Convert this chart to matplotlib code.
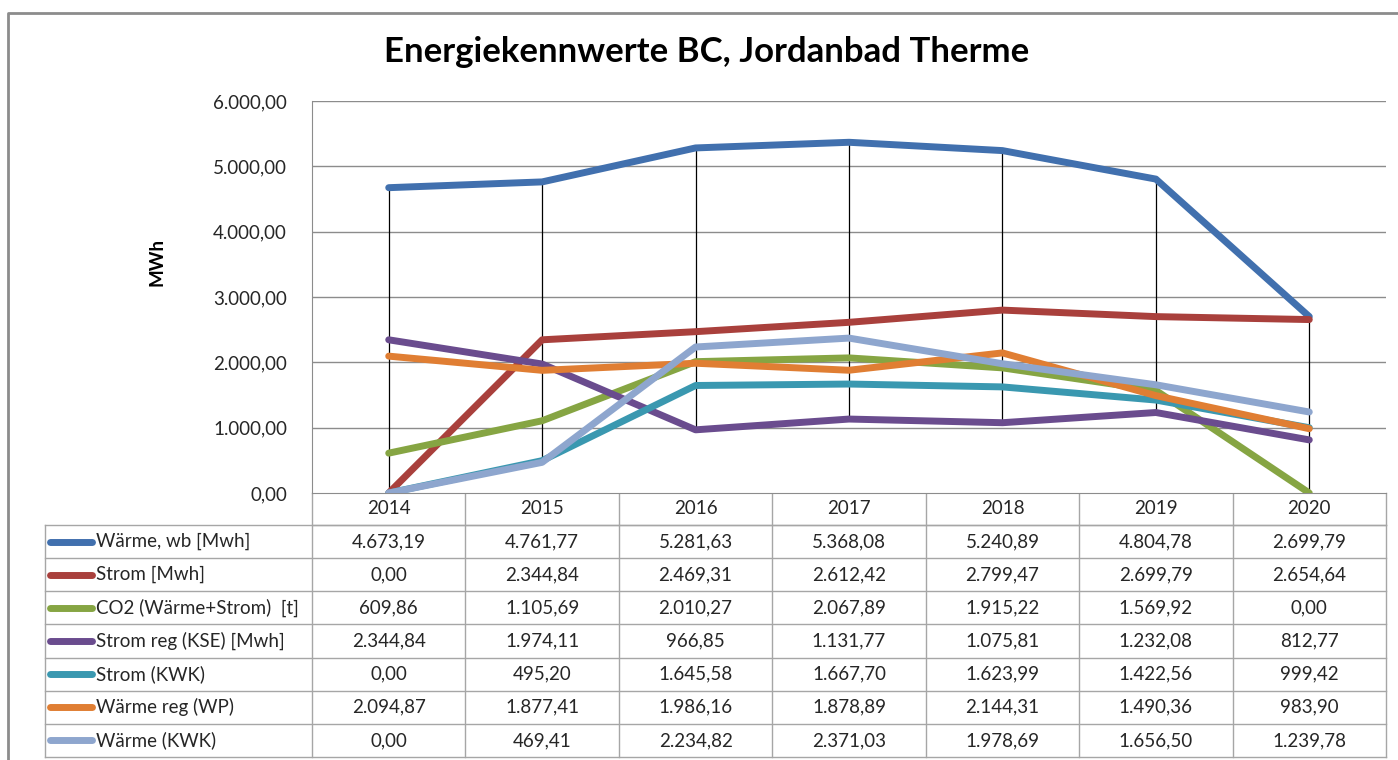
import numpy as np
import matplotlib.pyplot as plt
from matplotlib.lines import Line2D

plt.rcParams['font.family'] = ['Lato', 'DejaVu Sans']

years = ["2014", "2015", "2016", "2017", "2018", "2019", "2020"]
series_names = [
    "Wärme, wb [Mwh]",
    "Strom [Mwh]",
    "CO2 (Wärme+Strom)  [t]",
    "Strom reg (KSE) [Mwh]",
    "Strom (KWK)",
    "Wärme reg (WP)",
    "Wärme (KWK)",
]
waerme_wb = [4673.19, 4761.77, 5281.63, 5368.08, 5240.89, 4804.78, 2699.79]
strom = [0.00, 2344.84, 2469.31, 2612.42, 2799.47, 2699.79, 2654.64]
co2 = [609.86, 1105.69, 2010.27, 2067.89, 1915.22, 1569.92, 0.00]
strom_reg = [2344.84, 1974.11, 966.85, 1131.77, 1075.81, 1232.08, 812.77]
strom_kwk = [0.00, 495.20, 1645.58, 1667.70, 1623.99, 1422.56, 999.42]
waerme_reg = [2094.87, 1877.41, 1986.16, 1878.89, 2144.31, 1490.36, 983.90]
waerme_kwk = [0.00, 469.41, 2234.82, 2371.03, 1978.69, 1656.50, 1239.78]
series = [waerme_wb, strom, co2, strom_reg, strom_kwk, waerme_reg, waerme_kwk]
colors = ["#4170AE", "#A9403C", "#86A543", "#6A4C8E", "#3A98B0", "#E07E33", "#8EA6CE"]

yticks = [0, 1000, 2000, 3000, 4000, 5000, 6000]


def de_fmt(v):
    s = f"{v:,.2f}"
    return s.replace(",", "X").replace(".", ",").replace("X", ".")


W, H = 1398, 760
fig = plt.figure(figsize=(W / 100, H / 100), dpi=100)
txt_col = "#262626"
grid_col = "#8C8C8C"
fs = 13.5

pl, pr, pt, pb = 312, 1386, 101, 493
ax = fig.add_axes([pl / W, (H - pb) / H, (pr - pl) / W, (pb - pt) / H])
x = np.arange(len(years))
ax.set_xlim(-0.5, len(years) - 0.5)
ax.set_ylim(0, 6000)
ax.set_yticks(yticks)
ax.set_yticklabels([de_fmt(v) for v in yticks], fontsize=fs, color=txt_col)
ax.tick_params(axis="y", length=0, pad=18)
ax.set_xticks([])
for s in ["top", "right"]:
    ax.spines[s].set_visible(False)
for s in ["left", "bottom"]:
    ax.spines[s].set_color(grid_col)
for v in yticks[1:]:
    ax.axhline(v, color=grid_col, lw=1, zorder=1)

data = np.array(series)
ax.vlines(x, data.min(axis=0), data.max(axis=0), color="black", lw=0.9, zorder=2)
for vals, c in zip(series, colors):
    ax.plot(x, vals, color=c, lw=5, solid_capstyle="round",
            solid_joinstyle="round", zorder=3)

ax.set_ylabel("MWh", fontsize=fs, fontweight="bold", color="black", labelpad=0)
ax.yaxis.set_label_coords(-(pl - 165) / (pr - pl), (pb - 262) / (pb - pt))

fig.text(707 / W, 1 - 52 / H, "Energiekennwerte BC, Jordanbad Therme",
         fontsize=25, fontweight="bold", ha="center", va="center", color="black")

# data table and chart frame, drawn in pixel coordinates
tl, th_top, th_bot = 45, 493, 757
tax = fig.add_axes([0, 0, 1, 1], zorder=-1)
tax.set_xlim(0, W)
tax.set_ylim(H, 0)
tax.axis("off")
tax.plot([8, 8, W], [H, 13, 13], color="#8C8C8C", lw=2)

col_w = (pr - pl) / len(years)
row_h = (th_bot - 525) / len(series)
tc = "#A6A6A6"
tax.plot([pl, pr], [525, 525], color=tc, lw=1)
for i in range(len(years) + 1):
    xe = pl + i * col_w
    tax.plot([xe, xe], [th_top, th_bot], color=tc, lw=1)
for i, yr in enumerate(years):
    tax.text(pl + (i + 0.5) * col_w, (th_top + 525) / 2, yr, fontsize=fs,
             ha="center", va="center", color=txt_col)
tax.plot([tl, tl], [525, th_bot], color=tc, lw=1)
for r in range(len(series) + 1):
    yr_ = 525 + r * row_h
    tax.plot([tl, pr], [yr_, yr_], color=tc, lw=1)
for r, (name, vals, c) in enumerate(zip(series_names, series, colors)):
    yc = 525 + (r + 0.5) * row_h
    tax.add_line(Line2D([50, 92], [yc, yc], color=c, lw=5, solid_capstyle="round"))
    tax.text(96, yc, name, fontsize=fs, ha="left", va="center", color=txt_col)
    for i, v in enumerate(vals):
        tax.text(pl + (i + 0.5) * col_w, yc, de_fmt(v), fontsize=fs,
                 ha="center", va="center", color=txt_col)

fig.savefig("out.png", dpi=100)
